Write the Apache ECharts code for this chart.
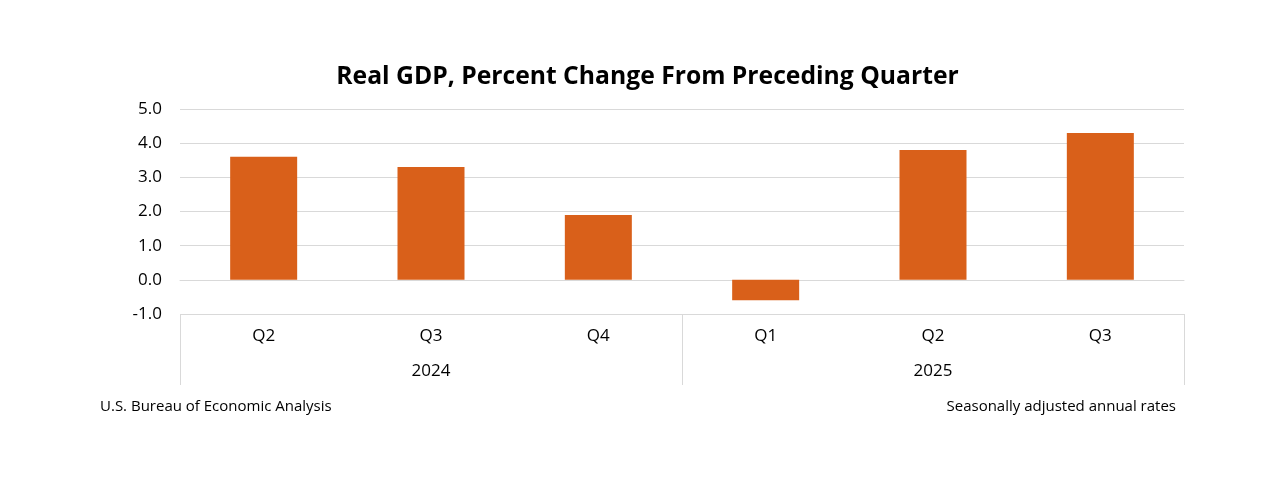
<!DOCTYPE html>
<html><head><meta charset="utf-8">
<script src="https://cdn.jsdelivr.net/npm/echarts@6/dist/echarts.min.js"></script>
<style>html,body{margin:0;padding:0;background:#fff}#c{width:1277px;height:486px}</style>
</head><body><div id="c"></div>
<script>
const quarters = ['Q2','Q3','Q4','Q1','Q2','Q3'];
const years = ['2024','2025'];
const gdpChange = [3.6, 3.3, 1.9, -0.6, 3.8, 4.3];
const yTicks = [-1, 0, 1, 2, 3, 4, 5];

const font = 'Open Sans';
const chart = echarts.init(document.getElementById('c'));
chart.setOption({
  animation: false,
  backgroundColor: '#fff',
  graphic: [
    {type: 'text', x: 647.5, y: 77, style: {text: 'Real GDP, Percent Change From Preceding Quarter',
      font: 'bold 24.7px "Open Sans"', fill: '#000', align: 'center', verticalAlign: 'middle'}},
    {type: 'text', left: 100, top: 399, style: {text: 'U.S. Bureau of Economic Analysis', font: '15px "Open Sans"', fill: '#000'}},
    {type: 'text', right: 101, top: 399, style: {text: 'Seasonally adjusted annual rates', font: '15px "Open Sans"', fill: '#000'}}
  ],
  grid: {left: 180, right: 93, top: 109, bottom: 172},
  xAxis: [
    {type: 'category', data: quarters, position: 'bottom',
     axisLine: {show: true, lineStyle: {color: '#d9d9d9', width: 1}},
     axisTick: {show: false},
     axisLabel: {fontFamily: font, fontSize: 17, color: '#000', margin: 14}},
    {type: 'category', data: years, position: 'bottom',
     axisLine: {show: false},
     axisTick: {show: true, length: 71, lineStyle: {color: '#d9d9d9', width: 1}},
     axisLabel: {fontFamily: font, fontSize: 17, color: '#000', margin: 49}}
  ],
  yAxis: {
    type: 'value', min: yTicks[0], max: yTicks[yTicks.length-1], interval: 1,
    axisLine: {show: false}, axisTick: {show: false},
    splitLine: {lineStyle: {color: '#d9d9d9', width: 1}},
    axisLabel: {fontFamily: font, fontSize: 17, color: '#000', margin: 18,
      formatter: v => v.toFixed(1)}
  },
  series: [{
    type: 'bar', data: gdpChange, xAxisIndex: 0, barWidth: 67,
    itemStyle: {color: '#d9601a'}
  }]
});
</script></body></html>
